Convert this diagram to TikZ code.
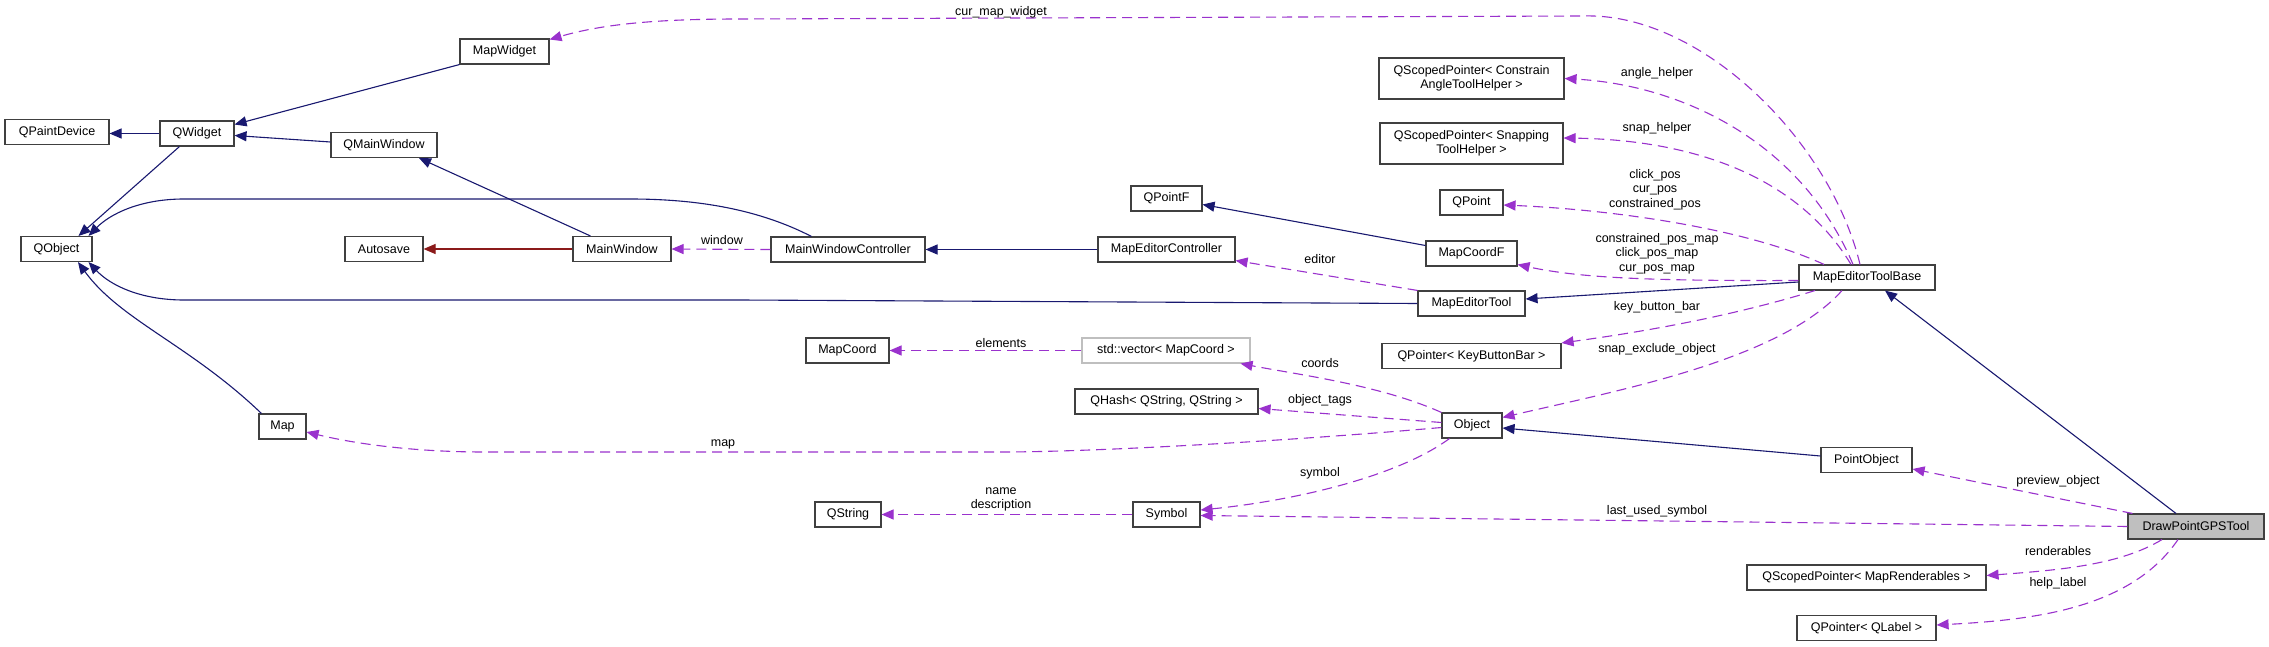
\documentclass[tikz,border=0pt]{standalone}
\usepackage{fontspec}
\setmainfont{Liberation Sans}
\usetikzlibrary{arrows.meta,calc}
\definecolor{inhcol}{HTML}{191970}
\definecolor{usecol}{HTML}{9A32CD}
\definecolor{privcol}{HTML}{8B1A1A}
\definecolor{boxcol}{HTML}{404040}
\definecolor{grayfill}{HTML}{BFBFBF}
\newcommand{\dxfont}{\fontsize{12.5}{14.5}\selectfont}
\begin{document}
\begin{tikzpicture}[x=1pt,y=-1pt,
  box/.style={draw=boxcol, line width=1.1pt, fill=white, inner sep=0pt, minimum height=25pt, align=center, font=\dxfont},
  boxtwo/.style={box, minimum height=41pt},
  lbl/.style={inner sep=0pt, align=center, font=\dxfont},
  tip/.style={-{Triangle[length=12pt,width=10pt]}},
  inh/.style={draw=inhcol, line width=1.1pt, tip},
  priv/.style={draw=privcol, line width=1.1pt, tip},
  use/.style={draw=usecol, line width=1.1pt, dash pattern=on 10pt off 6pt, tip}]
\fill[white] (0,0) rectangle (2269,647);
\useasboundingbox (0,0) rectangle (2269,647);
% nodes
\node[box, minimum width=104pt] (qpaintdevice) at (57,132) {QPaintDevice};
\node[box, minimum width=74pt] (qwidget) at (197,133.5) {QWidget};
\node[box, minimum width=89pt] (mapwidget) at (504.5,51.5) {MapWidget};
\node[box, minimum width=106pt] (qmainwindow) at (384,145) {QMainWindow};
\node[box, minimum width=71pt] (qobject) at (56.5,249) {QObject};
\node[box, minimum width=78pt] (autosave) at (384,249) {Autosave};
\node[box, minimum width=98pt] (mainwindow) at (622,249) {MainWindow};
\node[box, minimum width=154pt] (mwc) at (848,249.5) {MainWindowController};
\node[box, minimum width=137pt] (mec) at (1166.5,249.5) {MapEditorController};
\node[box, minimum width=71pt] (qpointf) at (1166.5,198.5) {QPointF};
\node[boxtwo, minimum width=185pt] (qspc) at (1471.5,78.5) {QScopedPointer< Constrain\\AngleToolHelper >};
\node[boxtwo, minimum width=183pt] (qsps) at (1471.5,143.5) {QScopedPointer< Snapping\\ToolHelper >};
\node[box, minimum width=63pt] (qpoint) at (1471.5,202.5) {QPoint};
\node[box, minimum width=91pt] (mapcoordf) at (1471.5,253.5) {MapCoordF};
\node[box, minimum width=107pt] (met) at (1471.5,303.5) {MapEditorTool};
\node[box, minimum width=136pt] (metb) at (1867,277.5) {MapEditorToolBase};
\node[box, minimum width=179pt] (qpkbb) at (1471.5,356) {QPointer< KeyButtonBar >};
\node[box, minimum width=60pt] (object) at (1472,425.5) {Object};
\node[box, minimum width=91pt] (pointobject) at (1866.5,460) {PointObject};
\node[box, minimum width=136pt, fill=grayfill] (dpgt) at (2196,526.5) {DrawPointGPSTool};
\node[box, minimum width=239pt] (qsmr) at (1866.5,577.5) {QScopedPointer< MapRenderables >};
\node[box, minimum width=139pt] (qpql) at (1866.5,628) {QPointer< QLabel >};
\node[box, minimum width=83pt] (mapcoord) at (847.5,350.5) {MapCoord};
\node[box, minimum width=168pt, draw=grayfill] (stdvec) at (1166,350.5) {std::vector< MapCoord >};
\node[box, minimum width=183pt] (qhash) at (1166.5,401.5) {QHash< QString, QString >};
\node[box, minimum width=66pt] (qstring) at (848,514.5) {QString};
\node[box, minimum width=67pt] (symbol) at (1166.5,514.5) {Symbol};
\node[box, minimum width=47pt] (map) at (282.5,426.5) {Map};
% inheritance
\draw[inh] (qwidget.west) -- (qpaintdevice.east |- qwidget.west);
\draw[inh] ($(qwidget.south west)+(20,0)$) -- ($(qobject.north)+(22,0)$);
\draw[inh] (mapwidget.south west) -- ($(qwidget.east)+(0,-9)$);
\draw[inh] ($(qmainwindow.west)+(0,-3)$) -- ($(qwidget.east)+(0,2)$);
\draw[inh] ($(mainwindow.north west)+(18,0)$) -- ($(qmainwindow.south)+(35,0)$);
\draw[inh] ($(mwc.north west)+(41,0)$) .. controls (760,210) and (700,199) .. (630,199) -- (184,199) .. controls (140,199) and (110,214) .. ($(qobject.north east)+(-4,0)$);
\draw[inh] (met.west) -- (740,300) -- (184,300) .. controls (140,300) and (110,285) .. ($(qobject.south east)+(-4,0)$);
\draw[inh] ($(map.north west)+(3,0)$) .. controls (190,345) and (120,320) .. ($(qobject.south)+(21.5,0)$);
\draw[inh] (mec.west) -- (mwc.east);
\draw[inh] ($(mapcoordf.west)+(0,-8)$) -- ($(qpointf.east)+(0,6)$);
\draw[inh] ($(metb.west)+(0,4.5)$) -- ($(met.east)+(0,-4.5)$);
\draw[inh] ($(dpgt.north)+(-20,0)$) -- ($(metb.south)+(18,0)$);
\draw[inh] ($(pointobject.west)+(0,-4)$) -- ($(object.east)+(0,2.5)$);
\draw[priv] (mainwindow.west) -- (autosave.east);
% usage
\draw[use] (mwc.west) -- (mainwindow.east);
\node[lbl] (lwindow) at (722,240) {window};
\draw[use] ($(metb.north)+(-7,0)$) .. controls (1830,140) and (1700,12) .. (1583,16) -- (740,19) .. controls (650,19) and (600,25) .. ($(mapwidget.east)+(0,-12)$);
\node[lbl] (lcmw) at (1001,12) {cur\_map\_widget};
\draw[use] ($(metb.north)+(-14,0)$) .. controls (1800,140) and (1680,85) .. (qspc.east);
\node[lbl] (langle) at (1657,73) {angle\_helper};
\draw[use] ($(metb.north)+(-16,0)$) .. controls (1800,180) and (1700,140) .. ($(qsps.east)+(0,-5.5)$);
\node[lbl] (lsnap) at (1657,128) {snap\_helper};
\draw[use] ($(metb.north)+(-43,0)$) .. controls (1750,230) and (1620,210) .. ($(qpoint.east)+(0,2.5)$);
\node[lbl] (lpos) at (1655,189.5) {click\_pos\\cur\_pos\\constrained\_pos};
\draw[use] ($(metb.west)+(0,3)$) .. controls (1650,281) and (1580,278) .. ($(mapcoordf.south east)+(0,-2)$);
\node[lbl] (lposmap) at (1657,253.5) {constrained\_pos\_map\\click\_pos\_map\\cur\_pos\_map};
\draw[use] ($(metb.south)+(-52,0)$) .. controls (1720,320) and (1620,335) .. (qpkbb.north east);
\node[lbl] (lkbb) at (1657,307) {key\_button\_bar};
\draw[use] ($(metb.south)+(-25,0)$) .. controls (1780,360) and (1620,390) .. ($(object.north east)+(0,5)$);
\node[lbl] (lseo) at (1657,349) {snap\_exclude\_object};
\draw[use] ($(dpgt.north west)+(5,0)$) -- ($(pointobject.east)+(0,9)$);
\node[lbl] (lprev) at (2058,481) {preview\_object};
\draw[use] (dpgt.west) -- ($(symbol.east)+(0,1)$);
\node[lbl] (llus) at (1657,511) {last\_used\_symbol};
\draw[use] ($(dpgt.south)+(-34,0)$) .. controls (2120,565) and (2060,570) .. ($(qsmr.east)+(0,-2)$);
\node[lbl] (lrend) at (2058,551) {renderables};
\draw[use] ($(dpgt.south)+(-18,0)$) .. controls (2130,610) and (2030,620) .. ($(qpql.east)+(0,-3)$);
\node[lbl] (lhelp) at (2058,583) {help\_label};
\draw[use] (stdvec.west) -- (mapcoord.east);
\node[lbl] (lelem) at (1001,343) {elements};
\draw[use] (object.north west) .. controls (1380,385) and (1300,375) .. ($(stdvec.south east)+(-10,0)$);
\node[lbl] (lcoords) at (1320,363) {coords};
\draw[use] ($(object.west)+(0,-3)$) -- ($(qhash.east)+(0,7)$);
\node[lbl] (ltags) at (1320,400) {object\_tags};
\draw[use] ($(object.west)+(0,2)$) .. controls (1300,440) and (1100,452) .. (1000,452) -- (484,452) .. controls (420,452) and (360,445) .. ($(map.east)+(0,5.5)$);
\node[lbl] (lmap) at (723,444) {map};
\draw[use] ($(object.south west)+(8,0)$) .. controls (1400,475) and (1300,500) .. ($(symbol.east)+(0,-4.5)$);
\node[lbl] (lsym) at (1320,473) {symbol};
\draw[use] (symbol.west) -- (qstring.east);
\node[lbl] (lname) at (1001,499.5) {name\\description};
\draw[use] (met.north west) -- ($(mec.south east)+(0,-2)$);
\node[lbl] (leditor) at (1320,259) {editor};
\end{tikzpicture}
\end{document}
